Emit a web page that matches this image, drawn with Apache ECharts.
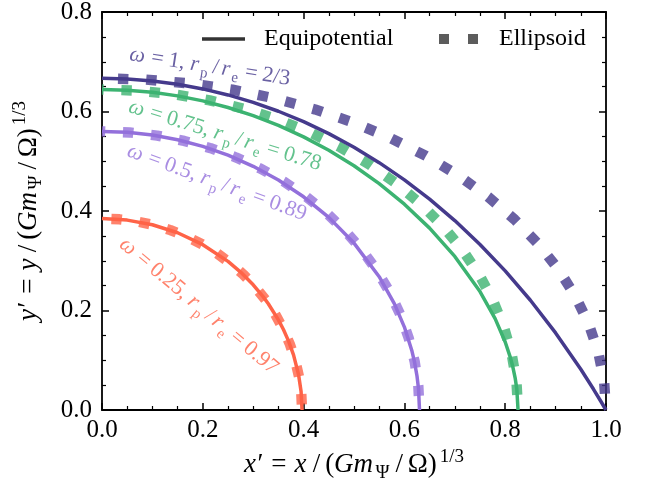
<!DOCTYPE html>
<html><head><meta charset="utf-8">
<script src="https://cdn.jsdelivr.net/npm/echarts/dist/echarts.min.js"></script>
<style>html,body{margin:0;padding:0;background:#fff}#c{width:649px;height:484px}</style>
</head><body><div id="c"></div>
<script>
// ---- data ----
const xTicks = [0, 0.2, 0.4, 0.6, 0.8, 1.0];
const yTicks = [0, 0.2, 0.4, 0.6, 0.8];
const omegas = ['1', '0.75', '0.5', '0.25'];
const ratios = ['2/3', '0.78', '0.89', '0.97'];

const eqX_w1 = [0, 0.05, 0.1, 0.15, 0.2, 0.25, 0.3, 0.35, 0.4, 0.45, 0.5, 0.55, 0.6, 0.65, 0.7, 0.75, 0.8, 0.85, 0.9, 0.95, 0.975, 0.99, 1.0];
const eqY_w1 = [0.6667, 0.6653, 0.6614, 0.6547, 0.6454, 0.6333, 0.6184, 0.6005, 0.5796, 0.5555, 0.5281, 0.4972, 0.4625, 0.4238, 0.3807, 0.3328, 0.2796, 0.2206, 0.1550, 0.0819, 0.0421, 0.0171, 0];
const eqX_w075 = [0, 0.05, 0.1, 0.15, 0.2, 0.25, 0.3, 0.35, 0.4, 0.45, 0.5, 0.55, 0.6, 0.65, 0.7, 0.75, 0.78, 0.8, 0.81, 0.815, 0.82, 0.823, 0.8255];
const eqY_w075 = [0.6443, 0.6429, 0.6386, 0.6314, 0.6213, 0.6081, 0.5918, 0.5722, 0.5490, 0.5221, 0.4909, 0.4551, 0.4137, 0.3656, 0.3087, 0.2380, 0.1837, 0.1367, 0.1063, 0.0873, 0.0629, 0.0424, 0];
const eqX_w05 = [0, 0.05, 0.1, 0.15, 0.2, 0.25, 0.3, 0.35, 0.4, 0.45, 0.5, 0.55, 0.58, 0.6, 0.615, 0.62, 0.625, 0.628, 0.63];
const eqY_w05 = [0.5600, 0.5581, 0.5526, 0.5432, 0.5298, 0.5122, 0.4899, 0.4623, 0.4286, 0.3872, 0.3355, 0.2679, 0.2139, 0.1667, 0.1184, 0.0967, 0.0683, 0.0430, 0];
const eqX_w025 = [0, 0.05, 0.1, 0.15, 0.2, 0.25, 0.275, 0.3, 0.32, 0.33, 0.35, 0.36, 0.37, 0.38, 0.39, 0.395, 0.3969];
const eqY_w025 = [0.3848, 0.3817, 0.3724, 0.3562, 0.3323, 0.2987, 0.2773, 0.2517, 0.2274, 0.2135, 0.1812, 0.1617, 0.1390, 0.1108, 0.0711, 0.0371, 0];

const ellX_w1 = [0, 0.0872, 0.1736, 0.2588, 0.3420, 0.4226, 0.5000, 0.5736, 0.6428, 0.7071, 0.7660, 0.8192, 0.8660, 0.9063, 0.9397, 0.9659, 0.9848, 0.9962, 1.0000];
const ellY_w1 = [0.6667, 0.6641, 0.6565, 0.6440, 0.6265, 0.6042, 0.5774, 0.5461, 0.5107, 0.4714, 0.4285, 0.3824, 0.3333, 0.2817, 0.2280, 0.1725, 0.1158, 0.0581, 0];
const ellX_w075 = [0, 0.0720, 0.1434, 0.2137, 0.2823, 0.3489, 0.4128, 0.4735, 0.5306, 0.5837, 0.6324, 0.6762, 0.7149, 0.7482, 0.7757, 0.7974, 0.8130, 0.8224, 0.8255];
const ellY_w075 = [0.6443, 0.6419, 0.6345, 0.6224, 0.6054, 0.5839, 0.5580, 0.5278, 0.4936, 0.4556, 0.4142, 0.3696, 0.3222, 0.2723, 0.2204, 0.1668, 0.1119, 0.0562, 0];
const ellX_w05 = [0, 0.0549, 0.1094, 0.1631, 0.2155, 0.2663, 0.3150, 0.3614, 0.4050, 0.4455, 0.4826, 0.5161, 0.5456, 0.5710, 0.5920, 0.6085, 0.6204, 0.6276, 0.6300];
const ellY_w05 = [0.5600, 0.5579, 0.5515, 0.5409, 0.5262, 0.5075, 0.4850, 0.4587, 0.4290, 0.3960, 0.3600, 0.3212, 0.2800, 0.2367, 0.1915, 0.1449, 0.0972, 0.0488, 0];
const ellX_w025 = [0, 0.0346, 0.0689, 0.1027, 0.1357, 0.1677, 0.1985, 0.2277, 0.2551, 0.2807, 0.3040, 0.3251, 0.3437, 0.3597, 0.3730, 0.3834, 0.3909, 0.3954, 0.3969];
const ellY_w025 = [0.3848, 0.3833, 0.3790, 0.3717, 0.3616, 0.3487, 0.3332, 0.3152, 0.2948, 0.2721, 0.2473, 0.2207, 0.1924, 0.1626, 0.1316, 0.0996, 0.0668, 0.0335, 0];

// annotation anchor (data coords) and angle
const annotX = [0.214, 0.244, 0.228, 0.192];
const annotY = [0.690, 0.552, 0.457, 0.209];
const annotAngle = [-8.8, -17, -20, -40];

// ---- styling ----
const colors = ['#453A8C', '#3CB371', '#9370DB', '#FF6347'];
const dashOffsets = [12.2, 8.8, 7.2, 18.8];
const FONT = 'Liberation Serif';

const pairs = (xs, ys) => xs.map((x, i) => [x, ys[i]]);
const eqSets = [[eqX_w1, eqY_w1], [eqX_w075, eqY_w075], [eqX_w05, eqY_w05], [eqX_w025, eqY_w025]];
const ellSets = [[ellX_w1, ellY_w1], [ellX_w075, ellY_w075], [ellX_w05, ellY_w05], [ellX_w025, ellY_w025]];

function richFor(color, size, pad) {
  const sm = Math.round(size * 0.7);
  const base = {fontFamily: FONT, fontSize: size, color: color, lineHeight: size + 8};
  return {
    i: Object.assign({}, base, {fontStyle: 'italic', padding: [0, 1.5, 0, 0]}),
    n: Object.assign({}, base),
    eq: Object.assign({}, base, {padding: [0, pad, 0, pad]}),
    sl: Object.assign({}, base, {padding: [0, pad * 0.6, 0, pad * 0.6]}),
    s: {fontFamily: FONT, fontSize: sm, color: color, lineHeight: sm + 4, verticalAlign: 'bottom', padding: [0, 1, 0, 1]},
    sup: {fontFamily: FONT, fontSize: sm, color: color, lineHeight: sm + 2, verticalAlign: 'top', padding: [0, 0, 0, 3]}
  };
}

const series = [];
ellSets.forEach((s, k) => {
  series.push({
    type: 'line', name: 'ell' + k, data: pairs(s[0], s[1]), showSymbol: false, symbol: 'none',
    z: 2, silent: true,
    lineStyle: {color: colors[k], opacity: 0.8, width: 10.4, type: [10.4, 17.8], dashOffset: dashOffsets[k], cap: 'butt'}
  });
});
eqSets.forEach((s, k) => {
  series.push({
    type: 'line', name: 'eq' + k, data: pairs(s[0], s[1]), showSymbol: false, symbol: 'none',
    z: 3, silent: true,
    lineStyle: {color: colors[k], width: 3.5}
  });
});
// annotations
series.push({
  type: 'scatter', name: 'annot', symbolSize: 1, itemStyle: {color: 'rgba(0,0,0,0)'}, z: 5, silent: true,
  data: annotX.map((x, k) => ({
    value: [x, annotY[k]],
    label: {
      show: true, position: 'inside', rotate: annotAngle[k],
      formatter: '{i|ω}{eq|=}{n|' + omegas[k] + ', }{i|r}{s|p}{sl|/}{i|r}{s|e}{eq|=}{n|' + ratios[k] + '}',
      rich: richFor(colors[k], 22, 5)
    }
  }))
});
// legend dummies
series.push({type: 'scatter', name: 'Equipotential', data: [], itemStyle: {color: '#000'}});
series.push({type: 'scatter', name: 'Ellipsoid', data: [], itemStyle: {color: 'rgba(0,0,0,0.8)'}});

const axisCommon = {
  axisLine: {show: true, onZero: false, lineStyle: {color: '#000', width: 1.8}},
  axisTick: {show: true, inside: true, length: 7, lineStyle: {color: '#000', width: 1.5}},
  minorTick: {show: true, splitNumber: 4, length: 4, lineStyle: {color: '#000', width: 1.2}},
  splitLine: {show: false}, minorSplitLine: {show: false}
};
const tickStyle = {fontFamily: FONT, fontSize: 25, color: '#000'};
const legendStyle = {fontFamily: FONT, fontSize: 24, color: '#000'};
const titleRich = richFor('#000', 27, 8);

const chart = echarts.init(document.getElementById('c'), null, {renderer: 'canvas'});
chart.setOption({
  animation: false,
  backgroundColor: '#fff',
  grid: {left: 102, top: 12, right: 43, bottom: 74, containLabel: false, outerBoundsMode: 'none'},
  legend: [
    {data: [{name: 'Equipotential', icon: 'rect'}], left: 197, top: 22, itemWidth: 43, itemHeight: 3.5,
     selectedMode: false, textStyle: Object.assign({padding: [0, 0, 0, 14]}, legendStyle)},
    {data: [{name: 'Ellipsoid', icon: 'path://M0,0h10v10h-10zM29,0h10v10h-10z'}], left: 434, top: 22, itemWidth: 39, itemHeight: 10,
     selectedMode: false, textStyle: Object.assign({padding: [0, 0, 0, 16]}, legendStyle)}
  ],
  xAxis: [
    Object.assign({type: 'value', min: xTicks[0], max: xTicks[xTicks.length - 1], interval: 0.2, position: 'bottom',
      axisLabel: Object.assign({margin: 8, formatter: v => v.toFixed(1)}, tickStyle),
      name: '{i|x}{n|′}{eq|=}{i|x}{sl|/}{n|(}{i|Gm}{s|Ψ}{sl|/}{n|Ω)}{sup|1/3}', nameLocation: 'middle', nameGap: 37,
      nameTextStyle: {rich: titleRich}}, axisCommon),
    Object.assign({type: 'value', min: xTicks[0], max: xTicks[xTicks.length - 1], interval: 0.2, position: 'top',
      axisLabel: {show: false}}, axisCommon)
  ],
  yAxis: [
    Object.assign({type: 'value', min: yTicks[0], max: yTicks[yTicks.length - 1], interval: 0.2, position: 'left',
      axisLabel: Object.assign({margin: 10, formatter: v => v.toFixed(1)}, tickStyle),
      name: '{i|y}{n|′}{eq|=}{i|y}{sl|/}{n|(}{i|Gm}{s|Ψ}{sl|/}{n|Ω)}{sup|1/3}', nameLocation: 'middle', nameGap: 56, nameRotate: 90,
      nameTextStyle: {rich: titleRich}}, axisCommon),
    Object.assign({type: 'value', min: yTicks[0], max: yTicks[yTicks.length - 1], interval: 0.2, position: 'right',
      axisLabel: {show: false}}, axisCommon)
  ],
  series: series
});
</script></body></html>
